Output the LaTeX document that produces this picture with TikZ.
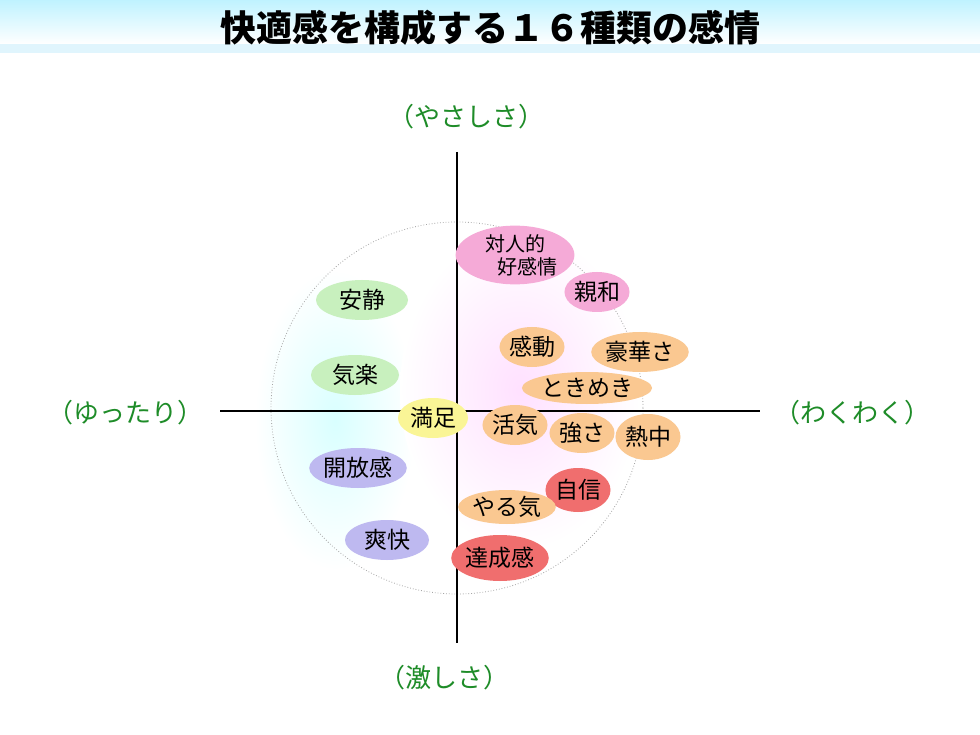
\documentclass[tikz,border=0pt]{standalone}
\usepackage{fontspec}
\setmainfont{Noto Sans CJK JP}
\usetikzlibrary{positioning,shapes.geometric}
\definecolor{axisgreen}{RGB}{30,140,40}
\definecolor{kgreen}{RGB}{200,240,190}
\definecolor{kpurple}{RGB}{190,185,240}
\definecolor{kyellow}{RGB}{250,245,150}
\definecolor{kpink}{RGB}{245,170,215}
\definecolor{korange}{RGB}{250,200,145}
\definecolor{kred}{RGB}{240,110,110}
\tikzset{
  feel/.style={ellipse, minimum width=#1, minimum height=40pt, inner sep=0pt, font=\fontsize{23}{26}\selectfont},
  pole/.style={text=axisgreen, font=\fontsize{26}{30}\selectfont},
}
\begin{document}
\begin{tikzpicture}[x=1pt,y=-1pt]
  \useasboundingbox (0,0) rectangle (980,735);
  \fill[white] (0,0) rectangle (980,735);
  % title bar
  \shade[top color=blue!20!cyan!25, bottom color=white] (0,0) rectangle (980,44);
  \fill[cyan!12] (0,44) rectangle (980,53);
  \node[font=\fontsize{36}{40}\selectfont\bfseries] (title) at (490,28) {快適感を構成する１６種類の感情};
  % soft glows
  \shade[inner color=cyan!15, outer color=white] (335,420) ellipse (80 and 150);
  \shade[inner color=magenta!12, outer color=white] (520,390) ellipse (120 and 160);
  % circle and axes
  \draw[gray!70, dotted, thick] (457,408) circle (186);
  \coordinate (top) at (457,152);
  \coordinate (bot) at (457,643);
  \coordinate (lft) at (220,411);
  \coordinate (rgt) at (760,411);
  \draw[line width=1.6pt] (top) -- (bot);
  \draw[line width=1.6pt] (lft) -- (rgt);
  \node[pole] (up) at (466,117) {（やさしさ）};
  \node[pole] (left) at (125,413) {（ゆったり）};
  \node[pole] (right) at (852,413) {（わくわく）};
  \node[pole] (down) at (444,678) {（激しさ）};
  % feelings
  \node[feel=92pt, fill=kgreen] (ansei) at (362,300) {安静};
  \node[feel=88pt, fill=kgreen] (kiraku) at (355,375) {気楽};
  \node[feel=94pt, fill=kpurple] (kaiho) at (358,468) {開放感};
  \node[feel=84pt, fill=kpurple] (sokai) at (387,540) {爽快};
  \node[feel=70pt, fill=kyellow] (manzoku) at (433,418) {満足};
  \node[feel=90pt, minimum height=58pt, fill=kpink, align=center, font=\fontsize{20}{23}\selectfont] (taijin) at (515,255) {対人的\\\hspace{1.2em}好感情};
  \node[feel=60pt, fill=kpink] (shinwa) at (597,292) {親和};
  \node[feel=60pt, fill=korange] (kando) at (532,347) {感動};
  \node[feel=80pt, fill=korange] (goka) at (640,352) {豪華さ};
  \node[feel=100pt, minimum height=32pt, fill=korange] (tokimeki) at (587,388) {ときめき};
  \node[feel=62pt, fill=korange] (kakki) at (515,425) {活気};
  \node[feel=58pt, fill=korange] (tsuyosa) at (582,433) {強さ};
  \node[feel=58pt, minimum height=46pt, fill=korange] (nechu) at (648,437) {熱中};
  \node[feel=60pt, minimum height=44pt, fill=kred] (jishin) at (578,490) {自信};
  \node[feel=84pt, minimum height=34pt, fill=korange] (yaruki) at (507,507) {やる気};
  \node[feel=86pt, minimum height=46pt, fill=kred] (tassei) at (500,558) {達成感};
\end{tikzpicture}
\end{document}
